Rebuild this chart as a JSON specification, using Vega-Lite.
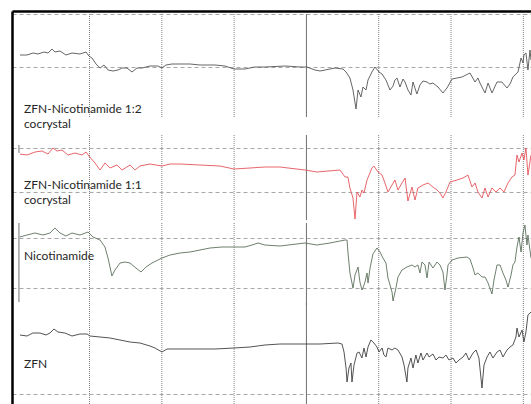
{
  "$schema": "https://vega.github.io/schema/vega-lite/v6.json",
  "width": 519,
  "height": 393,
  "autosize": {"type": "none"},
  "padding": {"left": 12, "top": 11, "right": 0, "bottom": 0},
  "background": "white",
  "config": {"view": {"stroke": null}},
  "datasets": {
    "spectra": [
      {"s":"p1","wn":3981,"v":349},{"s":"p1","wn":3932,"v":349},{"s":"p1","wn":3891,"v":351},{"s":"p1","wn":3856,"v":350},{"s":"p1","wn":3815,"v":352},{"s":"p1","wn":3787,"v":351},{"s":"p1","wn":3759,"v":355},{"s":"p1","wn":3739,"v":352},{"s":"p1","wn":3704,"v":353},{"s":"p1","wn":3663,"v":349},{"s":"p1","wn":3621,"v":351},{"s":"p1","wn":3566,"v":350},{"s":"p1","wn":3524,"v":352},{"s":"p1","wn":3504,"v":348},{"s":"p1","wn":3483,"v":346},{"s":"p1","wn":3455,"v":340},{"s":"p1","wn":3427,"v":336},{"s":"p1","wn":3400,"v":339},{"s":"p1","wn":3372,"v":334},{"s":"p1","wn":3338,"v":333},{"s":"p1","wn":3303,"v":334},{"s":"p1","wn":3275,"v":336},{"s":"p1","wn":3241,"v":336},{"s":"p1","wn":3206,"v":332},{"s":"p1","wn":3172,"v":336},{"s":"p1","wn":3137,"v":336},{"s":"p1","wn":3082,"v":338},{"s":"p1","wn":3026,"v":338},{"s":"p1","wn":2999,"v":336},{"s":"p1","wn":2971,"v":339},{"s":"p1","wn":2930,"v":340},{"s":"p1","wn":2874,"v":340},{"s":"p1","wn":2805,"v":340},{"s":"p1","wn":2736,"v":339},{"s":"p1","wn":2632,"v":339},{"s":"p1","wn":2563,"v":338},{"s":"p1","wn":2501,"v":335},{"s":"p1","wn":2425,"v":335},{"s":"p1","wn":2356,"v":337},{"s":"p1","wn":2287,"v":337},{"s":"p1","wn":2148,"v":338},{"s":"p1","wn":2044,"v":337},{"s":"p1","wn":1996,"v":337},{"s":"p1","wn":1941,"v":334},{"s":"p1","wn":1906,"v":333},{"s":"p1","wn":1802,"v":336},{"s":"p1","wn":1747,"v":335},{"s":"p1","wn":1726,"v":332},{"s":"p1","wn":1699,"v":326},{"s":"p1","wn":1678,"v":314},{"s":"p1","wn":1657,"v":295},{"s":"p1","wn":1643,"v":314},{"s":"p1","wn":1623,"v":307},{"s":"p1","wn":1609,"v":317},{"s":"p1","wn":1588,"v":314},{"s":"p1","wn":1574,"v":324},{"s":"p1","wn":1547,"v":332},{"s":"p1","wn":1526,"v":337},{"s":"p1","wn":1498,"v":332},{"s":"p1","wn":1477,"v":330},{"s":"p1","wn":1464,"v":327},{"s":"p1","wn":1450,"v":324},{"s":"p1","wn":1422,"v":314},{"s":"p1","wn":1401,"v":318},{"s":"p1","wn":1388,"v":324},{"s":"p1","wn":1374,"v":326},{"s":"p1","wn":1353,"v":317},{"s":"p1","wn":1332,"v":325},{"s":"p1","wn":1318,"v":322},{"s":"p1","wn":1298,"v":314},{"s":"p1","wn":1277,"v":309},{"s":"p1","wn":1263,"v":322},{"s":"p1","wn":1236,"v":310},{"s":"p1","wn":1215,"v":319},{"s":"p1","wn":1194,"v":323},{"s":"p1","wn":1166,"v":322},{"s":"p1","wn":1146,"v":320},{"s":"p1","wn":1125,"v":321},{"s":"p1","wn":1090,"v":317},{"s":"p1","wn":1056,"v":311},{"s":"p1","wn":1028,"v":316},{"s":"p1","wn":993,"v":325},{"s":"p1","wn":959,"v":326},{"s":"p1","wn":924,"v":327},{"s":"p1","wn":897,"v":329},{"s":"p1","wn":869,"v":331},{"s":"p1","wn":834,"v":322},{"s":"p1","wn":814,"v":326},{"s":"p1","wn":800,"v":321},{"s":"p1","wn":765,"v":311},{"s":"p1","wn":744,"v":321},{"s":"p1","wn":717,"v":311},{"s":"p1","wn":682,"v":322},{"s":"p1","wn":648,"v":322},{"s":"p1","wn":613,"v":316},{"s":"p1","wn":592,"v":320},{"s":"p1","wn":572,"v":327},{"s":"p1","wn":537,"v":332},{"s":"p1","wn":516,"v":346},{"s":"p1","wn":502,"v":341},{"s":"p1","wn":496,"v":349},{"s":"p1","wn":482,"v":351},{"s":"p1","wn":468,"v":334},{"s":"p1","wn":454,"v":354},{"s":"p1","wn":447,"v":344},

      {"s":"p2","wn":3981,"v":250},{"s":"p2","wn":3932,"v":249},{"s":"p2","wn":3877,"v":252},{"s":"p2","wn":3829,"v":253},{"s":"p2","wn":3787,"v":250},{"s":"p2","wn":3753,"v":256},{"s":"p2","wn":3725,"v":253},{"s":"p2","wn":3690,"v":254},{"s":"p2","wn":3649,"v":249},{"s":"p2","wn":3600,"v":251},{"s":"p2","wn":3552,"v":249},{"s":"p2","wn":3524,"v":252},{"s":"p2","wn":3504,"v":248},{"s":"p2","wn":3462,"v":241},{"s":"p2","wn":3427,"v":234},{"s":"p2","wn":3393,"v":241},{"s":"p2","wn":3358,"v":236},{"s":"p2","wn":3310,"v":239},{"s":"p2","wn":3275,"v":234},{"s":"p2","wn":3220,"v":239},{"s":"p2","wn":3185,"v":234},{"s":"p2","wn":3151,"v":238},{"s":"p2","wn":3082,"v":240},{"s":"p2","wn":2999,"v":238},{"s":"p2","wn":2943,"v":240},{"s":"p2","wn":2874,"v":240},{"s":"p2","wn":2736,"v":239},{"s":"p2","wn":2598,"v":238},{"s":"p2","wn":2501,"v":235},{"s":"p2","wn":2390,"v":236},{"s":"p2","wn":2287,"v":237},{"s":"p2","wn":2183,"v":237},{"s":"p2","wn":2010,"v":234},{"s":"p2","wn":1927,"v":232},{"s":"p2","wn":1768,"v":234},{"s":"p2","wn":1733,"v":227},{"s":"p2","wn":1713,"v":227},{"s":"p2","wn":1699,"v":216},{"s":"p2","wn":1678,"v":206},{"s":"p2","wn":1664,"v":185},{"s":"p2","wn":1650,"v":212},{"s":"p2","wn":1630,"v":207},{"s":"p2","wn":1616,"v":214},{"s":"p2","wn":1602,"v":211},{"s":"p2","wn":1581,"v":224},{"s":"p2","wn":1547,"v":236},{"s":"p2","wn":1533,"v":238},{"s":"p2","wn":1505,"v":232},{"s":"p2","wn":1477,"v":229},{"s":"p2","wn":1457,"v":221},{"s":"p2","wn":1436,"v":212},{"s":"p2","wn":1408,"v":219},{"s":"p2","wn":1388,"v":224},{"s":"p2","wn":1367,"v":214},{"s":"p2","wn":1339,"v":221},{"s":"p2","wn":1318,"v":226},{"s":"p2","wn":1298,"v":203},{"s":"p2","wn":1270,"v":217},{"s":"p2","wn":1249,"v":204},{"s":"p2","wn":1229,"v":216},{"s":"p2","wn":1194,"v":219},{"s":"p2","wn":1159,"v":221},{"s":"p2","wn":1125,"v":217},{"s":"p2","wn":1097,"v":214},{"s":"p2","wn":1076,"v":211},{"s":"p2","wn":1056,"v":206},{"s":"p2","wn":1035,"v":212},{"s":"p2","wn":1007,"v":222},{"s":"p2","wn":959,"v":224},{"s":"p2","wn":917,"v":226},{"s":"p2","wn":883,"v":229},{"s":"p2","wn":855,"v":217},{"s":"p2","wn":834,"v":221},{"s":"p2","wn":814,"v":212},{"s":"p2","wn":786,"v":206},{"s":"p2","wn":765,"v":216},{"s":"p2","wn":744,"v":207},{"s":"p2","wn":717,"v":216},{"s":"p2","wn":689,"v":212},{"s":"p2","wn":661,"v":216},{"s":"p2","wn":634,"v":212},{"s":"p2","wn":606,"v":221},{"s":"p2","wn":579,"v":227},{"s":"p2","wn":558,"v":229},{"s":"p2","wn":544,"v":249},{"s":"p2","wn":530,"v":242},{"s":"p2","wn":509,"v":251},{"s":"p2","wn":496,"v":244},{"s":"p2","wn":482,"v":256},{"s":"p2","wn":468,"v":229},{"s":"p2","wn":447,"v":249},

      {"s":"p3","wn":3981,"v":167},{"s":"p3","wn":3932,"v":169},{"s":"p3","wn":3877,"v":171},{"s":"p3","wn":3822,"v":169},{"s":"p3","wn":3773,"v":171},{"s":"p3","wn":3739,"v":176},{"s":"p3","wn":3704,"v":171},{"s":"p3","wn":3663,"v":168},{"s":"p3","wn":3621,"v":171},{"s":"p3","wn":3566,"v":169},{"s":"p3","wn":3510,"v":172},{"s":"p3","wn":3476,"v":167},{"s":"p3","wn":3427,"v":164},{"s":"p3","wn":3393,"v":157},{"s":"p3","wn":3372,"v":146},{"s":"p3","wn":3345,"v":128},{"s":"p3","wn":3324,"v":134},{"s":"p3","wn":3289,"v":141},{"s":"p3","wn":3255,"v":142},{"s":"p3","wn":3220,"v":141},{"s":"p3","wn":3179,"v":136},{"s":"p3","wn":3144,"v":132},{"s":"p3","wn":3109,"v":137},{"s":"p3","wn":3068,"v":141},{"s":"p3","wn":2999,"v":146},{"s":"p3","wn":2943,"v":149},{"s":"p3","wn":2874,"v":151},{"s":"p3","wn":2805,"v":152},{"s":"p3","wn":2736,"v":154},{"s":"p3","wn":2667,"v":156},{"s":"p3","wn":2584,"v":157},{"s":"p3","wn":2501,"v":157},{"s":"p3","wn":2425,"v":157},{"s":"p3","wn":2376,"v":159},{"s":"p3","wn":2335,"v":161},{"s":"p3","wn":2287,"v":159},{"s":"p3","wn":2183,"v":158},{"s":"p3","wn":2010,"v":161},{"s":"p3","wn":1927,"v":159},{"s":"p3","wn":1837,"v":161},{"s":"p3","wn":1733,"v":164},{"s":"p3","wn":1719,"v":164},{"s":"p3","wn":1713,"v":152},{"s":"p3","wn":1699,"v":131},{"s":"p3","wn":1678,"v":116},{"s":"p3","wn":1664,"v":129},{"s":"p3","wn":1643,"v":137},{"s":"p3","wn":1630,"v":122},{"s":"p3","wn":1616,"v":114},{"s":"p3","wn":1609,"v":116},{"s":"p3","wn":1595,"v":122},{"s":"p3","wn":1581,"v":131},{"s":"p3","wn":1574,"v":121},{"s":"p3","wn":1560,"v":136},{"s":"p3","wn":1540,"v":150},{"s":"p3","wn":1512,"v":156},{"s":"p3","wn":1491,"v":152},{"s":"p3","wn":1471,"v":146},{"s":"p3","wn":1450,"v":141},{"s":"p3","wn":1436,"v":126},{"s":"p3","wn":1408,"v":112},{"s":"p3","wn":1401,"v":103},{"s":"p3","wn":1381,"v":116},{"s":"p3","wn":1367,"v":127},{"s":"p3","wn":1339,"v":134},{"s":"p3","wn":1305,"v":137},{"s":"p3","wn":1270,"v":139},{"s":"p3","wn":1249,"v":137},{"s":"p3","wn":1229,"v":139},{"s":"p3","wn":1215,"v":131},{"s":"p3","wn":1201,"v":142},{"s":"p3","wn":1180,"v":139},{"s":"p3","wn":1166,"v":126},{"s":"p3","wn":1152,"v":142},{"s":"p3","wn":1125,"v":136},{"s":"p3","wn":1097,"v":142},{"s":"p3","wn":1076,"v":139},{"s":"p3","wn":1056,"v":132},{"s":"p3","wn":1042,"v":114},{"s":"p3","wn":1028,"v":129},{"s":"p3","wn":1021,"v":139},{"s":"p3","wn":993,"v":144},{"s":"p3","wn":952,"v":146},{"s":"p3","wn":890,"v":147},{"s":"p3","wn":869,"v":145},{"s":"p3","wn":848,"v":136},{"s":"p3","wn":834,"v":129},{"s":"p3","wn":814,"v":131},{"s":"p3","wn":786,"v":127},{"s":"p3","wn":765,"v":127},{"s":"p3","wn":744,"v":121},{"s":"p3","wn":717,"v":110},{"s":"p3","wn":703,"v":124},{"s":"p3","wn":682,"v":139},{"s":"p3","wn":661,"v":139},{"s":"p3","wn":641,"v":131},{"s":"p3","wn":620,"v":124},{"s":"p3","wn":606,"v":117},{"s":"p3","wn":585,"v":129},{"s":"p3","wn":572,"v":139},{"s":"p3","wn":558,"v":142},{"s":"p3","wn":544,"v":157},{"s":"p3","wn":530,"v":167},{"s":"p3","wn":516,"v":152},{"s":"p3","wn":502,"v":171},{"s":"p3","wn":489,"v":179},{"s":"p3","wn":475,"v":159},{"s":"p3","wn":468,"v":169},{"s":"p3","wn":447,"v":146},

      {"s":"p4","wn":3981,"v":69},{"s":"p4","wn":3932,"v":68},{"s":"p4","wn":3891,"v":71},{"s":"p4","wn":3842,"v":71},{"s":"p4","wn":3801,"v":69},{"s":"p4","wn":3773,"v":71},{"s":"p4","wn":3746,"v":75},{"s":"p4","wn":3718,"v":72},{"s":"p4","wn":3670,"v":71},{"s":"p4","wn":3621,"v":68},{"s":"p4","wn":3566,"v":70},{"s":"p4","wn":3517,"v":70},{"s":"p4","wn":3497,"v":68},{"s":"p4","wn":3427,"v":67},{"s":"p4","wn":3358,"v":66},{"s":"p4","wn":3289,"v":64},{"s":"p4","wn":3220,"v":62},{"s":"p4","wn":3151,"v":61},{"s":"p4","wn":3082,"v":58},{"s":"p4","wn":3047,"v":56},{"s":"p4","wn":2999,"v":52},{"s":"p4","wn":2964,"v":55},{"s":"p4","wn":2909,"v":55},{"s":"p4","wn":2840,"v":55},{"s":"p4","wn":2736,"v":55},{"s":"p4","wn":2632,"v":55},{"s":"p4","wn":2501,"v":56},{"s":"p4","wn":2390,"v":57},{"s":"p4","wn":2287,"v":59},{"s":"p4","wn":2183,"v":60},{"s":"p4","wn":2010,"v":60},{"s":"p4","wn":1906,"v":60},{"s":"p4","wn":1782,"v":61},{"s":"p4","wn":1754,"v":60},{"s":"p4","wn":1740,"v":52},{"s":"p4","wn":1726,"v":36},{"s":"p4","wn":1719,"v":22},{"s":"p4","wn":1706,"v":36},{"s":"p4","wn":1692,"v":41},{"s":"p4","wn":1685,"v":22},{"s":"p4","wn":1671,"v":39},{"s":"p4","wn":1650,"v":51},{"s":"p4","wn":1636,"v":52},{"s":"p4","wn":1616,"v":46},{"s":"p4","wn":1602,"v":56},{"s":"p4","wn":1588,"v":47},{"s":"p4","wn":1574,"v":57},{"s":"p4","wn":1554,"v":64},{"s":"p4","wn":1533,"v":61},{"s":"p4","wn":1512,"v":57},{"s":"p4","wn":1498,"v":52},{"s":"p4","wn":1477,"v":56},{"s":"p4","wn":1464,"v":49},{"s":"p4","wn":1450,"v":47},{"s":"p4","wn":1436,"v":56},{"s":"p4","wn":1408,"v":54},{"s":"p4","wn":1388,"v":56},{"s":"p4","wn":1367,"v":54},{"s":"p4","wn":1339,"v":47},{"s":"p4","wn":1325,"v":39},{"s":"p4","wn":1305,"v":22},{"s":"p4","wn":1298,"v":36},{"s":"p4","wn":1277,"v":46},{"s":"p4","wn":1263,"v":36},{"s":"p4","wn":1243,"v":49},{"s":"p4","wn":1229,"v":41},{"s":"p4","wn":1208,"v":51},{"s":"p4","wn":1194,"v":44},{"s":"p4","wn":1166,"v":51},{"s":"p4","wn":1152,"v":47},{"s":"p4","wn":1125,"v":50},{"s":"p4","wn":1104,"v":44},{"s":"p4","wn":1083,"v":47},{"s":"p4","wn":1056,"v":46},{"s":"p4","wn":1035,"v":49},{"s":"p4","wn":1014,"v":44},{"s":"p4","wn":987,"v":46},{"s":"p4","wn":966,"v":41},{"s":"p4","wn":945,"v":44},{"s":"p4","wn":917,"v":47},{"s":"p4","wn":897,"v":51},{"s":"p4","wn":876,"v":44},{"s":"p4","wn":848,"v":51},{"s":"p4","wn":827,"v":54},{"s":"p4","wn":807,"v":46},{"s":"p4","wn":786,"v":16},{"s":"p4","wn":772,"v":39},{"s":"p4","wn":751,"v":47},{"s":"p4","wn":731,"v":52},{"s":"p4","wn":710,"v":46},{"s":"p4","wn":682,"v":52},{"s":"p4","wn":661,"v":54},{"s":"p4","wn":641,"v":47},{"s":"p4","wn":613,"v":54},{"s":"p4","wn":592,"v":57},{"s":"p4","wn":572,"v":59},{"s":"p4","wn":551,"v":67},{"s":"p4","wn":544,"v":76},{"s":"p4","wn":530,"v":67},{"s":"p4","wn":509,"v":74},{"s":"p4","wn":496,"v":62},{"s":"p4","wn":482,"v":72},{"s":"p4","wn":468,"v":89},{"s":"p4","wn":447,"v":92}
    ],
    "vgrid": [
      {"wn":3500,"top":390,"bot":287},{"wn":3000,"top":390,"bot":287},{"wn":2500,"top":390,"bot":287},{"wn":1500,"top":390,"bot":287},{"wn":1000,"top":390,"bot":287},{"wn":500,"top":390,"bot":287},
      {"wn":3500,"top":269,"bot":184},{"wn":3000,"top":269,"bot":184},{"wn":2500,"top":269,"bot":184},{"wn":1500,"top":269,"bot":184},{"wn":1000,"top":269,"bot":184},{"wn":500,"top":269,"bot":184},
      {"wn":3500,"top":181,"bot":99},{"wn":3000,"top":181,"bot":99},{"wn":2500,"top":181,"bot":99},{"wn":1500,"top":181,"bot":99},{"wn":1000,"top":181,"bot":99},{"wn":500,"top":181,"bot":99},
      {"wn":3500,"top":101,"bot":0},{"wn":3000,"top":101,"bot":0},{"wn":2500,"top":101,"bot":0},{"wn":1500,"top":101,"bot":0},{"wn":1000,"top":101,"bot":0},{"wn":500,"top":101,"bot":0}
    ],
    "solid": [
      {"wn":2000,"top":390,"bot":287},{"wn":2000,"top":269,"bot":184},{"wn":2000,"top":181,"bot":99},{"wn":2000,"top":101,"bot":0},
      {"wn":3988,"top":259,"bot":251},{"wn":3988,"top":181,"bot":102}
    ],
    "labels": [
      {"label":"ZFN-Nicotinamide 1:2\ncocrystal","wn":3953,"v":291},
      {"label":"ZFN-Nicotinamide 1:1\ncocrystal","wn":3953,"v":215},
      {"label":"Nicotinamide","wn":3953,"v":144},
      {"label":"ZFN","wn":3953,"v":36}
    ]
  },
  "layer": [
    {
      "data": {"name": "vgrid"},
      "mark": {"type": "rule", "color": "#808080", "strokeWidth": 1, "strokeDash": [1, 1]},
      "encoding": {
        "x": {"field": "wn", "type": "quantitative", "scale": {"domain": [4036, 447], "nice": false, "zero": false},
          "axis": {"orient": "top", "title": null, "labels": false, "ticks": false, "grid": false, "domainColor": "#000", "domainWidth": 2.5}},
        "y": {"field": "top", "type": "quantitative", "scale": {"domain": [0, 393], "nice": false, "zero": false},
          "axis": {"orient": "left", "title": null, "labels": false, "ticks": false, "domainColor": "#000", "domainWidth": 2.5,
            "grid": true, "gridColor": "#a8a8a8", "gridDash": [4, 3], "gridWidth": 1,
            "values": [390, 363, 337, 311, 256, 234, 212, 190, 166, 141, 116, 60, 10]}},
        "y2": {"field": "bot"}
      }
    },
    {
      "data": {"name": "solid"},
      "mark": {"type": "rule", "color": "#707070", "strokeWidth": 1},
      "encoding": {
        "x": {"field": "wn", "type": "quantitative"},
        "y": {"field": "top", "type": "quantitative"},
        "y2": {"field": "bot"}
      }
    },
    {
      "data": {"name": "spectra"},
      "mark": {"type": "line", "strokeWidth": 0.9, "interpolate": "linear"},
      "encoding": {
        "x": {"field": "wn", "type": "quantitative"},
        "y": {"field": "v", "type": "quantitative"},
        "color": {"field": "s", "type": "nominal", "legend": null,
          "scale": {"domain": ["p1", "p2", "p3", "p4"], "range": ["#555555", "#e5555a", "#5e725e", "#404040"]}}
      }
    },
    {
      "data": {"name": "labels"},
      "mark": {"type": "text", "align": "left", "baseline": "alphabetic", "font": "Lato", "fontSize": 12, "lineHeight": 15, "lineBreak": "\n", "color": "#262626"},
      "encoding": {
        "x": {"field": "wn", "type": "quantitative"},
        "y": {"field": "v", "type": "quantitative"},
        "text": {"field": "label", "type": "nominal"}
      }
    }
  ]
}
